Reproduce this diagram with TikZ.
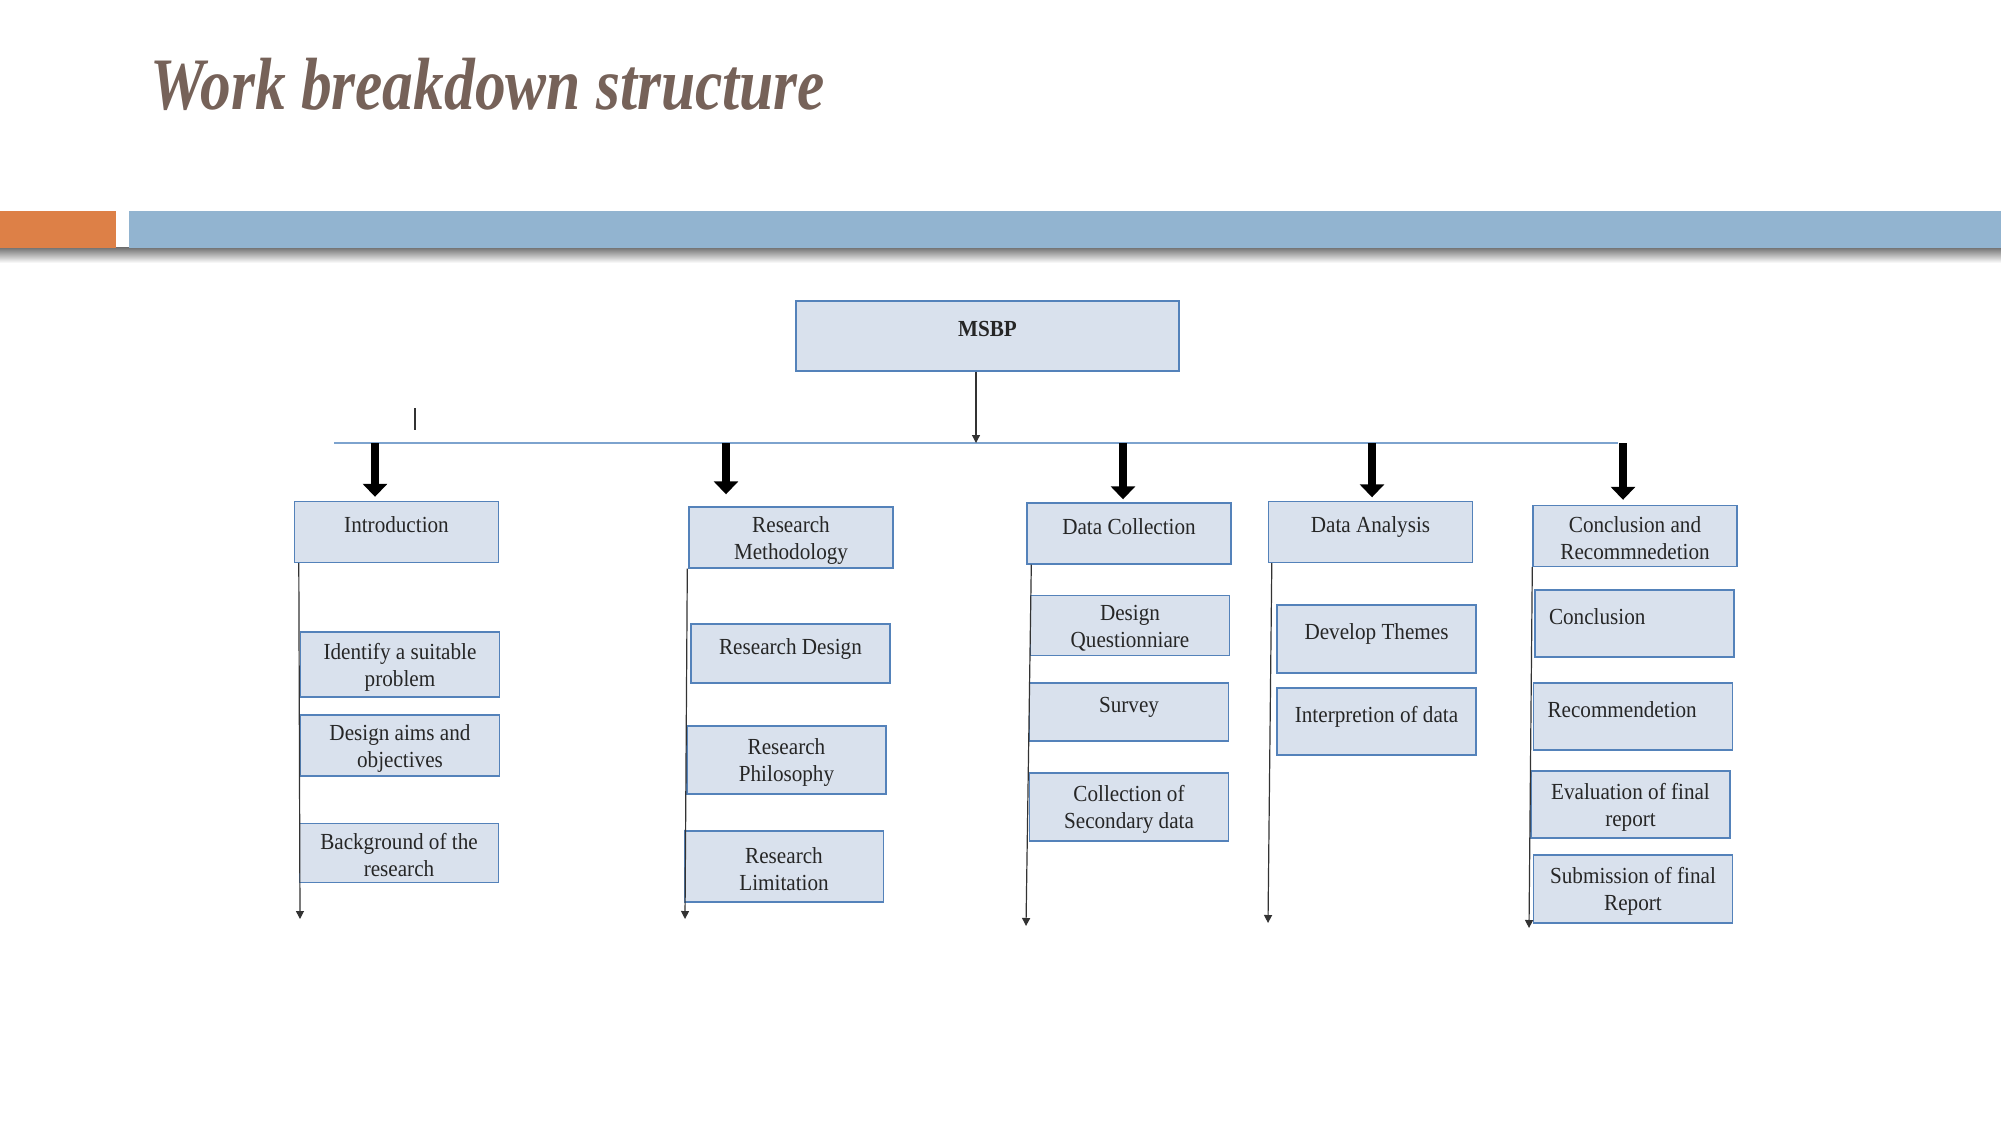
\documentclass[tikz,border=0pt]{standalone}
\usepackage{fontspec}
\setmainfont{Liberation Serif}
\newfontfamily\wbsfont[FakeStretch=0.92]{Liberation Serif}
\newfontfamily\wbstitle[FakeStretch=0.83]{Liberation Serif}
\usepackage{xcolor}
\usetikzlibrary{arrows.meta}

\definecolor{boxfill}{RGB}{217,225,237}
\definecolor{boxline}{RGB}{84,130,186}
\definecolor{busblue}{RGB}{125,163,206}
\definecolor{barblue}{RGB}{146,180,208}
\definecolor{barorange}{RGB}{221,128,71}
\definecolor{titlebrown}{RGB}{118,98,89}

\begin{document}
\begin{tikzpicture}[x=0.5pt, y=-0.5pt,
  box/.style={draw=boxline, fill=boxfill, line width=0.7pt, align=center, inner sep=2pt, text=black!85,
    font=\wbsfont\fontsize{11.5}{13.5}\selectfont},
    topbox/.style={box, minimum width=102pt, minimum height=30.5pt},
    subbox/.style={box, minimum width=99.5pt},
  oneline/.style={text depth=9.6pt, execute at begin node=\rule{0pt}{10.5pt}},
  twoline/.style={execute at begin node=\rule{0pt}{24pt}},
  leftline/.style={align=left, text width=85.5pt, inner xsep=7pt},
  bigarr/.style={-{Triangle[length=6.5pt,width=12pt]}, line width=3.6pt},
  arr/.style={-{Triangle[length=4pt,width=4pt]}, line width=0.6pt, black!80},
  bus/.style={draw=busblue, line width=0.8pt}
]
\useasboundingbox (0,0) rectangle (2001,1125);
\fill[white] (0,0) rectangle (2001,1125);

% title and header bars
\node[anchor=base west, inner sep=0pt, text=titlebrown,
  font=\wbstitle\bfseries\itshape\fontsize{37}{40}\selectfont] (title) at (150,109) {Work breakdown structure};
\shade[top color=black!55, bottom color=white] (0,247.6) rectangle (2001,263);
\fill[barorange] (0,210.5) rectangle (116,247.6);
\fill[barblue] (129,210.5) rectangle (2001,247.6);

% top level
\node[box, oneline, minimum width=191.5pt, minimum height=35pt,
  font=\wbsfont\bfseries\fontsize{11.5}{13.5}\selectfont] (msbp) at (987.5,336) {MSBP};

\node[topbox, oneline] (intro) at (396.5,532) {Introduction};
\node[topbox, twoline] (resm) at (791,537.5) {Research\\Methodology};
\node[topbox, oneline] (datc) at (1129,533.5) {Data Collection};
\node[topbox, oneline] (data) at (1370.5,532) {Data Analysis};
\node[topbox, twoline] (concl) at (1635,536) {Conclusion and\\Recommnedetion};

% work packages
\node[subbox, twoline, minimum height=32.5pt] (ident) at (400,664.5) {Identify a suitable\\problem};
\node[subbox, twoline, minimum height=30.5pt] (aims) at (400,745.5) {Design aims and\\objectives};
\node[subbox, twoline, minimum height=29.5pt] (backg) at (399,853) {Background of the\\research};

\node[subbox, oneline, minimum height=29.5pt] (rdes) at (790.5,653.5) {Research Design};
\node[subbox, twoline, minimum height=34pt] (rphil) at (786.5,760) {Research\\Philosophy};
\node[subbox, twoline, minimum height=35.5pt] (rlim) at (784,866.5) {Research\\Limitation};

\node[subbox, twoline, minimum height=29.5pt] (dques) at (1130,625.5) {Design\\Questionniare};
\node[subbox, oneline, minimum height=29pt] (surv) at (1129,712) {Survey};
\node[subbox, twoline, minimum height=34pt] (secd) at (1129,807) {Collection of\\Secondary data};

\node[subbox, oneline, minimum height=34pt] (dthem) at (1376.5,639) {Develop Themes};
\node[subbox, oneline, minimum height=33.5pt] (interp) at (1376.5,721.5) {Interpretion of data};

\node[subbox, oneline, leftline, minimum height=33.5pt] (conc) at (1634.5,623.5) {Conclusion};
\node[subbox, oneline, leftline, minimum height=33.5pt] (recm) at (1633,716.5) {Recommendetion};
\node[subbox, twoline, minimum height=33.5pt] (evalr) at (1630.5,804.5) {Evaluation of final\\report};
\node[subbox, twoline, minimum height=34pt] (subm) at (1633,889) {Submission of final\\Report};

% bus and arrows
\coordinate (busl) at (334,443);
\coordinate (busr) at (1618,443);
\coordinate (bm) at (976,443);
\coordinate (a1) at (375,443);
\coordinate (a2) at (726,443);
\coordinate (a3) at (1123,443);
\coordinate (a4) at (1372,443);
\coordinate (a5) at (1623,443);
\draw[bus] (busl) -- (busr);
\draw[arr] (msbp.south -| bm) -- (bm);
\draw[black!80, line width=0.6pt] (415,408) -- (415,430);
\foreach \c/\b/\s in {a1/intro/2pt, a2/resm/6pt, a3/datc/1.5pt, a4/data/1.75pt, a5/concl/2.5pt}
  \draw[bigarr, shorten >=\s] (\c) -- (\c |- \b.north);

\coordinate (e1) at (300,919);
\coordinate (e2) at (685,919);
\coordinate (e3) at (1026,926);
\coordinate (e4) at (1268,923);
\coordinate (e5) at (1529,928);
\foreach \b/\e/\d in {intro/e1/2.5pt, resm/e2/-0.5pt, datc/e3/2.5pt, data/e4/2pt, concl/e5/0pt}
  \draw[arr] ([xshift=\d]\b.south west) -- (\e);
\end{tikzpicture}
\end{document}
